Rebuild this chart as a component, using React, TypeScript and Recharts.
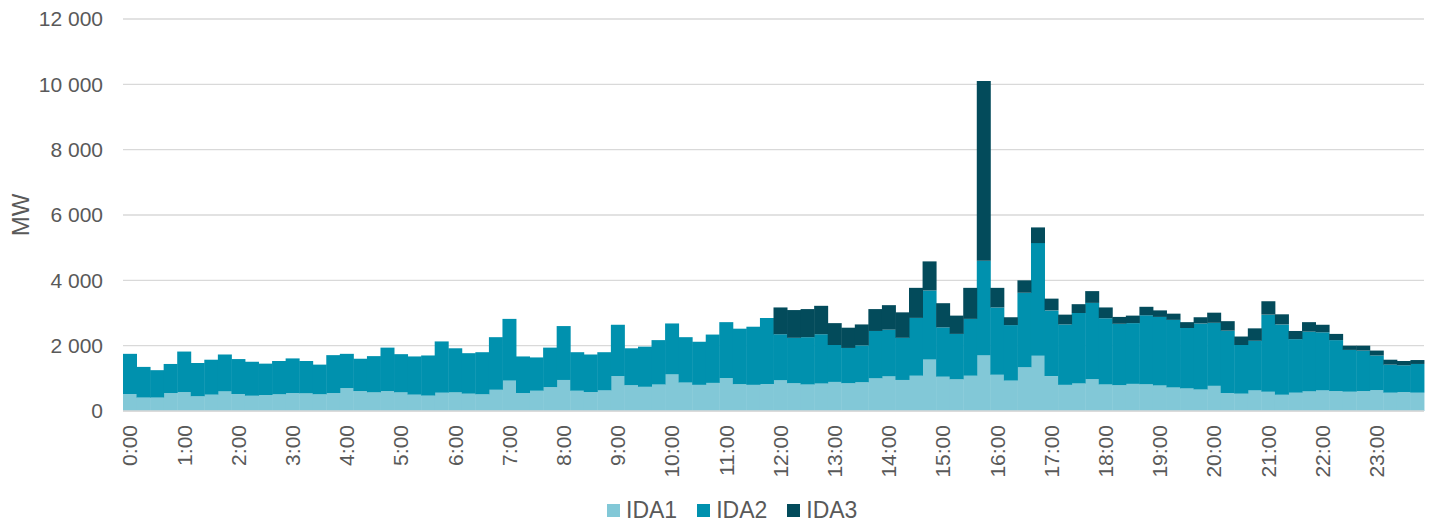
import { BarChart, Bar, XAxis, YAxis, CartesianGrid, Legend } from "recharts";

const hours = [
  "0", "1", "2", "3", "4", "5", "6", "7", "8", "9", "10", "11",
  "12", "13", "14", "15", "16", "17", "18", "19", "20", "21", "22", "23",
];
const quarters = ["00", "15", "30", "45"];

// MW per quarter hour
const ida1 = [
  520, 410, 410, 550, 580, 450, 500, 600, 520, 470, 490, 510,
  550, 540, 510, 550, 700, 610, 570, 610, 570, 500, 470, 560,
  570, 530, 510, 650, 930, 550, 620, 730, 950, 620, 580, 630,
  1070, 790, 740, 810, 1120, 870, 800, 860, 1010, 820, 800, 830,
  940, 850, 810, 840, 890, 850, 880, 1000, 1060, 950, 1080, 1580,
  1050, 970, 1080, 1710, 1110, 930, 1340, 1690, 1070, 800, 840, 970,
  810, 790, 830, 820, 780, 720, 690, 660, 770, 550, 530, 630,
  590, 500, 560, 600, 630, 610, 590, 610, 640, 560, 580, 560,
];
const ida2 = [
  1230, 940, 840, 890, 1240, 1020, 1070, 1130, 1070, 1040, 960, 1020,
  1060, 990, 910, 1160, 1050, 990, 1110, 1330, 1170, 1170, 1230, 1570,
  1350, 1240, 1290, 1610, 1890, 1120, 1020, 1210, 1650, 1180, 1150, 1170,
  1570, 1130, 1230, 1360, 1560, 1390, 1320, 1480, 1710, 1700, 1780, 2020,
  1410, 1390, 1450, 1510, 1130, 1080, 1130, 1450, 1430, 1290, 1770, 2110,
  1510, 1390, 1740, 2890, 2060, 1700, 2280, 3450, 2010, 1850, 2160, 2340,
  2030, 1880, 1860, 2110, 2100, 2070, 1850, 2020, 1930, 1910, 1490, 1520,
  2360, 2150, 1640, 1830, 1780, 1560, 1280, 1240, 1060, 860, 820, 880,
];
const ida3 = [
  0, 0, 0, 0, 0, 0, 0, 0, 0, 0, 0, 0,
  0, 0, 0, 0, 0, 0, 0, 0, 0, 0, 0, 0,
  0, 0, 0, 0, 0, 0, 0, 0, 0, 0, 0, 0,
  0, 0, 0, 0, 0, 0, 0, 0, 0, 0, 0, 0,
  820, 850, 860, 870, 670, 620, 640, 670, 750, 780, 920, 890,
  740, 560, 950, 5500, 600, 240, 380, 480, 360, 300, 270, 360,
  330, 210, 230, 260, 200, 190, 180, 190, 310, 290, 260, 380,
  410, 310, 250, 290, 230, 190, 130, 150, 150, 150, 130, 120,
];
const yTicks = [0, 2000, 4000, 6000, 8000, 10000, 12000];

const seriesNames = ["IDA1", "IDA2", "IDA3"];
const colors = ["#82c8d7", "#0091ae", "#034b5b"];

const times = hours.flatMap((h) => quarters.map((q) => `${h}:${q}`));
const data = times.map((t, i) => ({
  time: t,
  IDA1: ida1[i],
  IDA2: ida2[i],
  IDA3: ida3[i],
}));

const font = "'Liberation Sans', Arial, sans-serif";
const textColor = "#595959";

const fmt = (v: number) => String(v).replace(/\B(?=(\d{3})+(?!\d))/g, " ");

function TimeTick({ x, y, payload }: any) {
  return (
    <text
      x={x}
      y={y + 12}
      transform={`rotate(-90, ${x}, ${y + 12})`}
      textAnchor="end"
      dy="0.36em"
      fill={textColor}
      fontSize={21}
      fontFamily={font}
    >
      {payload.value}
    </text>
  );
}

function LegendBox() {
  return (
    <div style={{ display: "flex", paddingLeft: 607, paddingTop: 6, fontFamily: font, fontSize: 23, color: textColor }}>
      {seriesNames.map((n, i) => (
        <div key={n} style={{ display: "flex", alignItems: "center", marginRight: 20 }}>
          <span style={{ width: 13, height: 13, background: colors[i], display: "inline-block", marginRight: 6 }} />
          <span>{n}</span>
        </div>
      ))}
    </div>
  );
}

function MwLabel() {
  return (
    <text
      x={20}
      y={215}
      transform="rotate(-90, 20, 215)"
      textAnchor="middle"
      dy="0.36em"
      fill={textColor}
      fontSize={24}
      fontFamily={font}
    >
      MW
    </text>
  );
}

export default function App() {
  return (
    <div style={{ position: "absolute", left: 0, top: 0, background: "#fff" }}>
      <BarChart
        width={1431}
        height={524}
        data={data}
        barCategoryGap={0}
        margin={{ top: 19, right: 7, bottom: 0, left: 0 }}
      >
        <CartesianGrid vertical={false} stroke="#d9d9d9" strokeWidth={1.4} />
        <XAxis
          dataKey="time"
          interval={3}
          height={80}
          tickLine={false}
          tickSize={0}
          axisLine={{ stroke: "#d9d9d9", strokeWidth: 1.4 }}
          tick={<TimeTick />}
        />
        <YAxis
          width={123}
          domain={[0, 12000]}
          ticks={yTicks}
          tickFormatter={fmt}
          axisLine={false}
          tickLine={false}
          tickSize={0}
          tickMargin={20}
          tick={{ fill: textColor, fontSize: 21, fontFamily: font }}
          label={<MwLabel />}
        />
        <Legend verticalAlign="bottom" height={33} content={<LegendBox />} />
        {seriesNames.map((n, i) => (
          <Bar key={n} dataKey={n} stackId="a" fill={colors[i]} isAnimationActive={false} />
        ))}
      </BarChart>
    </div>
  );
}
